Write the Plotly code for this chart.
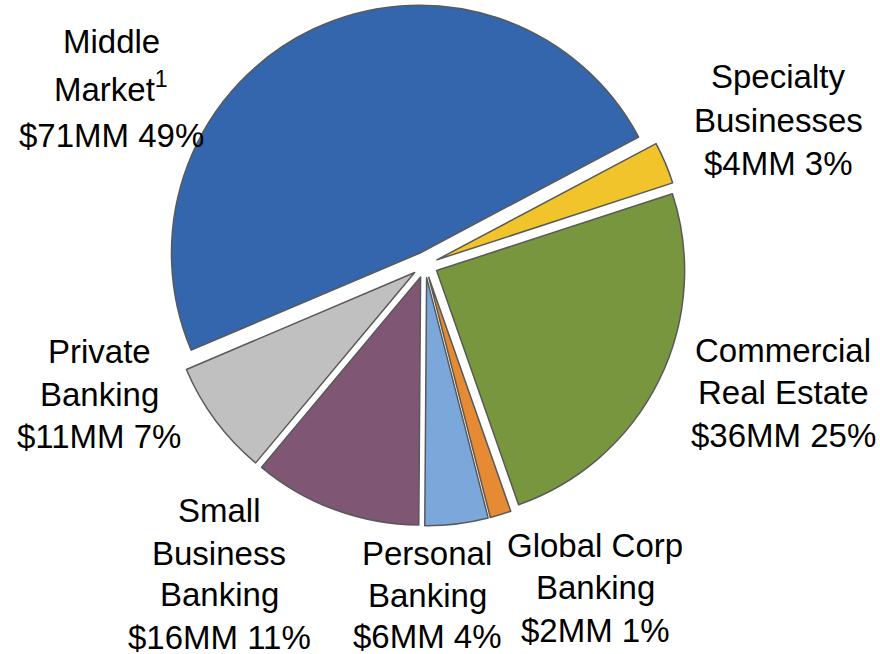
import plotly.graph_objects as go

# Segment revenue breakdown
segments = [
    "Middle<br>Market<sup>1</sup>",
    "Specialty<br>Businesses",
    "Commercial<br>Real Estate",
    "Global Corp<br>Banking",
    "Personal<br>Banking",
    "Small<br>Business<br>Banking",
    "Private<br>Banking",
]
values_mm = [71, 4, 36, 2, 6, 16, 11]
percents = [49, 3, 25, 1, 4, 11, 7]
colors = ["#3366AC", "#F0C42A", "#77963D", "#E68A33", "#7BA7DA", "#7F5775", "#C0C0C0"]

# Label block centres (x) and the baseline of each text line (y), in pixels
label_x = [111, 778, 783, 595, 427, 219, 99]
label_baselines = [
    [53, 102, 147],
    [88, 132, 175],
    [362, 404, 447],
    [557, 599, 642],
    [565, 607, 648],
    [522, 565, 606, 649],
    [363, 406, 448],
]

W, H = 880, 654
FS = 33

fig = go.Figure()
fig.add_trace(go.Pie(
    labels=[s.replace("<br>", " ") for s in segments],
    values=values_mm,
    sort=False,
    direction="clockwise",
    rotation=247,
    pull=0.052,
    marker=dict(colors=colors, line=dict(color="#595959", width=1.5)),
    textinfo="none",
    hoverinfo="label+value+percent",
    showlegend=False,
    domain=dict(x=[0.1865, 0.7795], y=[0.196, 0.994]),
))

for name, v, p, lx, baselines in zip(segments, values_mm, percents, label_x, label_baselines):
    lines = name.split("<br>") + [f"${v}MM {p}%"]
    for line, base in zip(lines, baselines):
        yc = base - 0.3465 * FS
        if "<sup>" in line:
            yc -= 4
        fig.add_annotation(
            text=line,
            x=lx / W, y=1 - yc / H, xref="paper", yref="paper",
            xanchor="center", yanchor="middle", showarrow=False,
            align="center",
            font=dict(family="Liberation Sans, Arial, sans-serif", size=FS, color="#000000"),
        )

fig.update_layout(
    width=W, height=H,
    margin=dict(l=0, r=0, t=0, b=0),
    paper_bgcolor="#FFFFFF",
    plot_bgcolor="#FFFFFF",
)

fig.write_html("out.html")
